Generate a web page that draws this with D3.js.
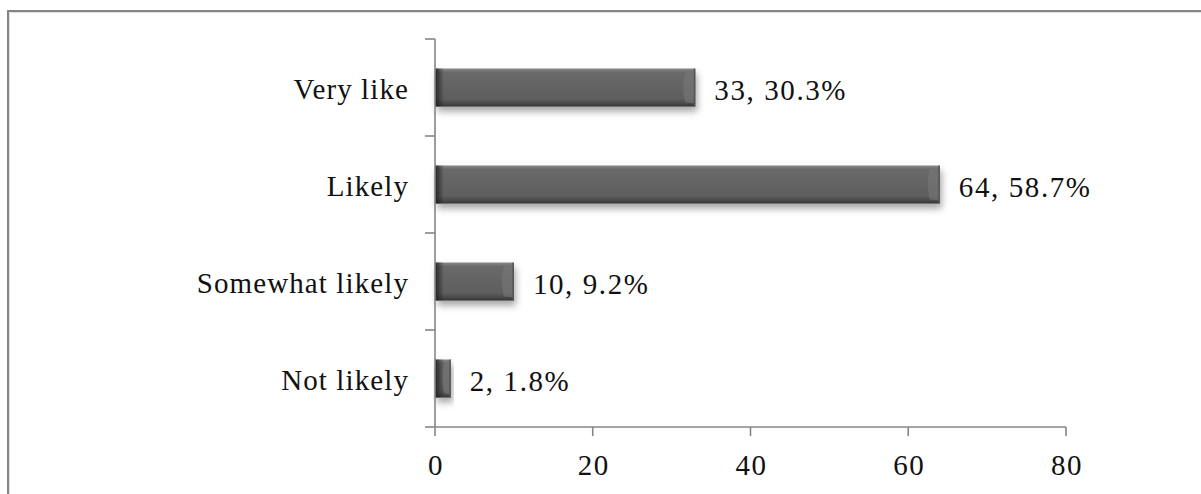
<!DOCTYPE html>
<html>
<head>
<meta charset="utf-8">
<script src="https://cdn.jsdelivr.net/npm/d3@7/dist/d3.min.js"></script>
<style>
  html, body { margin: 0; padding: 0; background: #fff; }
  svg { display: block; }
  .cat { font-family: "Liberation Serif", "Times New Roman", serif; font-size: 29px; letter-spacing: 1.1px; fill: #111; }
  .num { font-family: "Liberation Serif", "Times New Roman", serif; font-size: 29px; letter-spacing: 1.6px; fill: #111; }
</style>
</head>
<body>
<script>
// Survey responses: count and share of respondents
const categories = ["Very like", "Likely", "Somewhat likely", "Not likely"];
const counts = [33, 64, 10, 2];
const shares = ["30.3%", "58.7%", "9.2%", "1.8%"];
const xTicks = [0, 20, 40, 60, 80];

const W = 1201, H = 494;
const svg = d3.select("body").append("svg").attr("width", W).attr("height", H);

const defs = svg.append("defs");
const vg = defs.append("linearGradient").attr("id", "barFill").attr("x1", 0).attr("y1", 0).attr("x2", 0).attr("y2", 1);
vg.append("stop").attr("offset", "0%").attr("stop-color", "#8a8a8a");
vg.append("stop").attr("offset", "10%").attr("stop-color", "#6a6a6a");
vg.append("stop").attr("offset", "80%").attr("stop-color", "#5e5e5e");
vg.append("stop").attr("offset", "92%").attr("stop-color", "#4a4a4a");
vg.append("stop").attr("offset", "100%").attr("stop-color", "#333");

const lg = defs.append("linearGradient").attr("id", "leftEdge").attr("x1", 0).attr("y1", 0).attr("x2", 1).attr("y2", 0);
lg.append("stop").attr("offset", "0%").attr("stop-color", "#1e1e1e").attr("stop-opacity", 0.9);
lg.append("stop").attr("offset", "100%").attr("stop-color", "#1e1e1e").attr("stop-opacity", 0);

const f = defs.append("filter").attr("id", "shadow").attr("x", "-10%").attr("y", "-30%").attr("width", "130%").attr("height", "180%");
f.append("feDropShadow").attr("dx", 2).attr("dy", 5).attr("stdDeviation", 3.5)
  .attr("flood-color", "#000").attr("flood-opacity", 0.35);

// Outer frame
svg.append("line").attr("x1", 8).attr("x2", W).attr("y1", 11).attr("y2", 11).attr("stroke", "#858585").attr("stroke-width", 2);
svg.append("line").attr("x1", 8).attr("x2", 8).attr("y1", 10).attr("y2", H).attr("stroke", "#858585").attr("stroke-width", 2);
svg.append("line").attr("x1", 9.5).attr("x2", W).attr("y1", 12.5).attr("y2", 12.5).attr("stroke", "#e2e2e2").attr("stroke-width", 1);
svg.append("line").attr("x1", 9.5).attr("x2", 9.5).attr("y1", 12.5).attr("y2", H).attr("stroke", "#e2e2e2").attr("stroke-width", 1);

const x = d3.scaleLinear().domain([0, 80]).range([435, 1066]);
const y = d3.scaleBand().domain(categories).range([39, 427]).padding(0);
const barH = 38;
const axisColor = "#868686";

// Bars
const bars = svg.append("g").selectAll("g").data(categories).join("g");
bars.each(function (c, i) {
  const g = d3.select(this);
  const x0 = x(0), x1 = x(counts[i]);
  const cy = y(c) + y.bandwidth() / 2;
  const top = cy - barH / 2, bot = cy + barH / 2;
  const w = x1 - x0;
  g.append("rect").attr("x", x0).attr("y", top).attr("width", w).attr("height", barH)
    .attr("fill", "url(#barFill)").attr("filter", "url(#shadow)");
  // left bevel
  g.append("rect").attr("x", x0).attr("y", top).attr("width", Math.min(9, w * 0.6)).attr("height", barH)
    .attr("fill", "url(#leftEdge)");
  // right bevel
  const b = Math.min(10, w * 0.4);
  g.append("path")
    .attr("d", `M${x1},${top + 2} L${x1 - b},${top + 4} Q${x1 - b - 4},${cy} ${x1 - b},${bot - 4} L${x1},${bot - 3} Z`)
    .attr("fill", "#787878").attr("opacity", 0.6);
  g.append("rect").attr("x", x1 - 1.5).attr("y", top).attr("width", 1.5).attr("height", barH).attr("fill", "#555");
});

// Value labels
svg.append("g").selectAll("text").data(categories).join("text")
  .attr("class", "num")
  .attr("x", (c, i) => x(counts[i]) + 19)
  .attr("y", c => y(c) + y.bandwidth() / 2 + 12)
  .text((c, i) => `${counts[i]}, ${shares[i]}`);

// Category axis
svg.append("line").attr("x1", x(0)).attr("x2", x(0)).attr("y1", y.range()[0]).attr("y2", y.range()[1])
  .attr("stroke", axisColor).attr("stroke-width", 1.6);
const bounds = categories.map(c => y(c)).concat([y.range()[1]]);
svg.append("g").selectAll("line").data(bounds).join("line")
  .attr("x1", x(0) - 10).attr("x2", x(0)).attr("y1", d => d).attr("y2", d => d)
  .attr("stroke", axisColor).attr("stroke-width", 1.6);
svg.append("g").selectAll("text").data(categories).join("text")
  .attr("class", "cat").attr("text-anchor", "end")
  .attr("x", 409).attr("y", c => y(c) + y.bandwidth() / 2 + 11)
  .text(c => c);

// Value axis
const axisY = y.range()[1];
svg.append("line").attr("x1", x(0)).attr("x2", x(80)).attr("y1", axisY).attr("y2", axisY)
  .attr("stroke", axisColor).attr("stroke-width", 1.6);
svg.append("g").selectAll("line").data(xTicks).join("line")
  .attr("x1", d => x(d)).attr("x2", d => x(d)).attr("y1", axisY).attr("y2", axisY + 9)
  .attr("stroke", axisColor).attr("stroke-width", 1.6);
svg.append("g").selectAll("text").data(xTicks).join("text")
  .attr("class", "num").attr("text-anchor", "middle")
  .attr("x", d => x(d) + 1).attr("y", axisY + 48)
  .text(d => d);
</script>
</body>
</html>
